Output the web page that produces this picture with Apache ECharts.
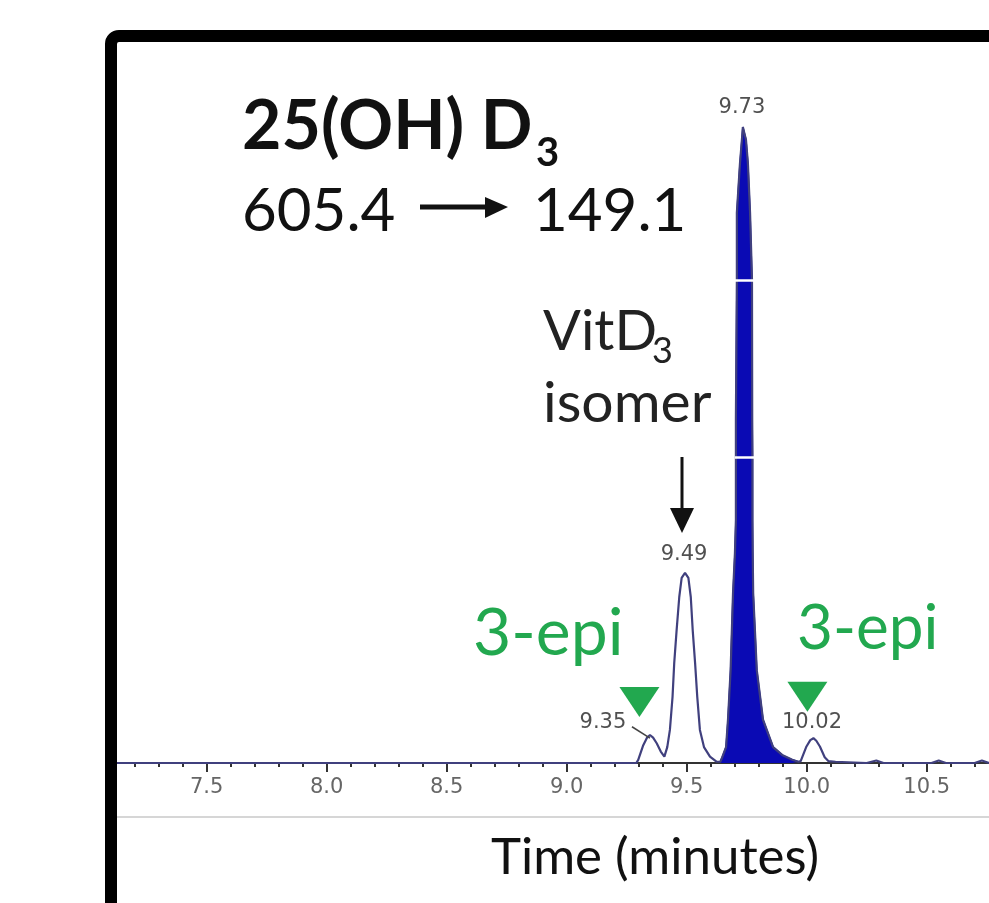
<!DOCTYPE html>
<html>
<head>
<meta charset="utf-8">
<script src="https://cdn.jsdelivr.net/npm/echarts@6/dist/echarts.min.js"></script>
<style>
html,body{margin:0;padding:0;background:#fff;overflow:hidden;width:989px;height:903px;}
#chart{width:1100px;height:903px;}
</style>
</head>
<body>
<div id="chart"></div>
<script>
// ---- data ----
// full trace (outline), time in minutes / relative intensity (%)
const traceTime = [7.0,7.5,8.0,8.5,9.0,9.29,
  9.298,9.319,9.335,9.347,9.360,9.375,9.392,9.407,
  9.419,9.430,9.441,9.448,9.458,9.469,9.479,9.493,9.507,9.517,9.525,9.535,9.544,9.555,9.572,9.597,9.624,
  9.640,9.647,9.664,9.672,9.683,9.693,9.701,9.705,9.705,9.709,9.709,9.722,9.730,9.734,
  9.747,9.755,9.764,9.772,9.773,9.774,9.774,9.775,9.777,9.792,9.818,9.860,9.900,9.940,9.965,
  9.975,9.999,10.015,10.028,10.040,10.055,10.075,10.090,10.120,
  10.25,10.29,10.32,10.52,10.55,10.58,10.70,10.73,10.76,11.0];
const traceIntensity = [0,0,0,0,0,0,
  0.5,2.8,4.0,4.4,4.0,3.1,1.8,1.0,
  2.5,5.2,10.4,15.7,20.9,26.1,29.1,29.9,29.1,26.1,20.9,15.7,10.4,5.2,2.5,1.0,0.2,
  0.2,0.8,2.5,6.8,14.6,26.7,33,38.2,54,76,86.5,94.3,98,100,
  98,94.3,86.5,76,54,48,38.2,33,26.7,14.6,6.8,2.5,1.2,0.5,0.2,
  0.3,2.6,3.6,3.9,3.5,2.6,0.9,0.3,0.2,
  0,0.4,0,0,0.4,0,0,0.4,0,0];
// filled main peak (25(OH)D3, 9.73 min)
const mainTime = [9.640,9.647,9.664,9.672,9.683,9.693,9.701,9.705,9.705,9.709,9.709,9.722,9.730,9.734,
  9.747,9.755,9.764,9.772,9.773,9.774,9.774,9.775,9.777,9.792,9.818,9.860,9.900,9.940,9.965];
const mainIntensity = [0.2,0.8,2.5,6.8,14.6,26.7,33,38.2,54,76,86.5,94.3,98,100,
  98,94.3,86.5,76,54,48,38.2,33,26.7,14.6,6.8,2.5,1.2,0.5,0.2];
// peak retention-time labels [time, intensity, text]
const peakLabels = [[9.730,103,'9.73'],[9.489,32.7,'9.49'],[9.151,6.4,'9.35'],[10.022,6.4,'10.02']];
// 3-epi markers [time, intensity]
const epiMarkers = [[9.303,9.6],[10.003,10.4]];
const xTickLabels = ['7.5','8.0','8.5','9.0','9.5','10.0','10.5'];
const axisTitle = 'Time (minutes)';

const zip = (a,b)=>a.map((v,i)=>[v,b[i]]);

const chart = echarts.init(document.getElementById('chart'), null, {renderer:'canvas'});
const GREEN = '#22a84f';
const option = {
  animation:false,
  backgroundColor:'#fff',
  grid:{left:86.7, right:53.3, top:63.4, bottom:140},
  xAxis:{
    type:'value', min:7.0, max:11.0, interval:0.5,
    axisLine:{show:true, onZero:false, lineStyle:{color:'#333', width:2}},
    axisTick:{show:true, length:9, lineStyle:{color:'#333', width:2}},
    minorTick:{show:true, splitNumber:5, length:4, lineStyle:{color:'#333', width:2}},
    splitLine:{show:false},
    axisLabel:{margin:14, color:'#666', fontFamily:'DejaVu Sans', fontSize:21,
      formatter:(v)=>{const s=v.toFixed(1); return xTickLabels.indexOf(s)>=0?s:'';}}
  },
  yAxis:{type:'value', min:0, max:110, show:false},
  series:[
    {
      type:'line', name:'main', data:zip(mainTime,mainIntensity), symbol:'none', smooth:false,
      lineStyle:{color:'#0a0a9a', width:1.5}, areaStyle:{color:'#0a0ab4', opacity:1}, z:3,
      markLine:{silent:true, symbol:'none', label:{show:false},
        lineStyle:{color:'#fff', width:2.5, type:'solid'},
        data:[[{coord:[9.70,75.9]},{coord:[9.79,75.9]}],[{coord:[9.70,48.0]},{coord:[9.79,48.0]}]]}
    },
    {
      type:'line', name:'trace', data:zip(traceTime,traceIntensity), symbol:'none', smooth:false,
      lineStyle:{color:'#40407e', width:2.2}, z:4,
      markPoint:{silent:true,
        data: peakLabels.map(p=>({coord:[p[0],p[1]], value:p[2], symbol:'circle', symbolSize:1,
          itemStyle:{color:'rgba(0,0,0,0)'},
          label:{show:true, position:'inside', formatter:p[2], color:'#505050', fontFamily:'DejaVu Sans', fontSize:21}}))
          .concat(epiMarkers.map(m=>({coord:m, symbol:'triangle', symbolRotate:180, symbolSize:[40,30],
            itemStyle:{color:GREEN}, label:{show:false}})))
      },
      markLine:{silent:true, symbol:'none', label:{show:false},
        lineStyle:{color:'#444', width:1.5, type:'solid'},
        data:[[{coord:[9.272,5.7]},{coord:[9.347,3.9]}]]}
    }
  ],
  graphic:[
    {type:'rect', z:100, shape:{x:0,y:0,width:105,height:903}, style:{fill:'#fff'}},
    {type:'rect', z:101, shape:{x:111,y:36,width:1200,height:1200,r:8}, style:{fill:'none', stroke:'#000', lineWidth:12}},
    {type:'line', z:50, shape:{x1:117,y1:817,x2:1100,y2:817}, style:{stroke:'#c8c8c8', lineWidth:1.5}},
    {type:'text', z:60, style:{text:'25(OH) D', x:242, y:127, font:'bold 68px Lato', fill:'#111', textAlign:'left', textVerticalAlign:'middle'}},
    {type:'text', z:60, style:{text:'3', x:536, y:153, font:'bold 40px Lato', fill:'#111', textAlign:'left', textVerticalAlign:'middle'}},
    {type:'text', z:60, style:{text:'605.4', x:242, y:212, font:'60px Lato', fill:'#111', textAlign:'left', textVerticalAlign:'middle'}},
    {type:'text', z:60, style:{text:'149.1', x:533, y:212, font:'60px Lato', fill:'#111', textAlign:'left', textVerticalAlign:'middle'}},
    {type:'line', z:60, shape:{x1:420,y1:207,x2:492,y2:207}, style:{stroke:'#111', lineWidth:5}},
    {type:'polygon', z:60, shape:{points:[[485,197],[508,207],[485,218]]}, style:{fill:'#111'}},
    {type:'text', z:60, style:{text:'VitD', x:543, y:332, font:'56px Lato', fill:'#222', textAlign:'left', textVerticalAlign:'middle'}},
    {type:'text', z:60, style:{text:'3', x:652, y:351, font:'36px Lato', fill:'#222', textAlign:'left', textVerticalAlign:'middle'}},
    {type:'text', z:60, style:{text:'isomer', x:543, y:404, font:'57px Lato', fill:'#222', textAlign:'left', textVerticalAlign:'middle'}},
    {type:'line', z:60, shape:{x1:682,y1:457,x2:682,y2:515}, style:{stroke:'#111', lineWidth:3}},
    {type:'polygon', z:60, shape:{points:[[670,508],[682,533],[694,508]]}, style:{fill:'#111'}},
    {type:'text', z:60, style:{text:'3-epi', x:473, y:634, font:'66px Lato', fill:GREEN, textAlign:'left', textVerticalAlign:'middle'}},
    {type:'text', z:60, style:{text:'3-epi', x:797, y:629, font:'62px Lato', fill:GREEN, textAlign:'left', textVerticalAlign:'middle'}},
    {type:'text', z:60, style:{text:axisTitle, x:655, y:858, font:'51px Lato', fill:'#111', textAlign:'center', textVerticalAlign:'middle'}}
  ]
};
chart.setOption(option);
</script>
</body>
</html>
